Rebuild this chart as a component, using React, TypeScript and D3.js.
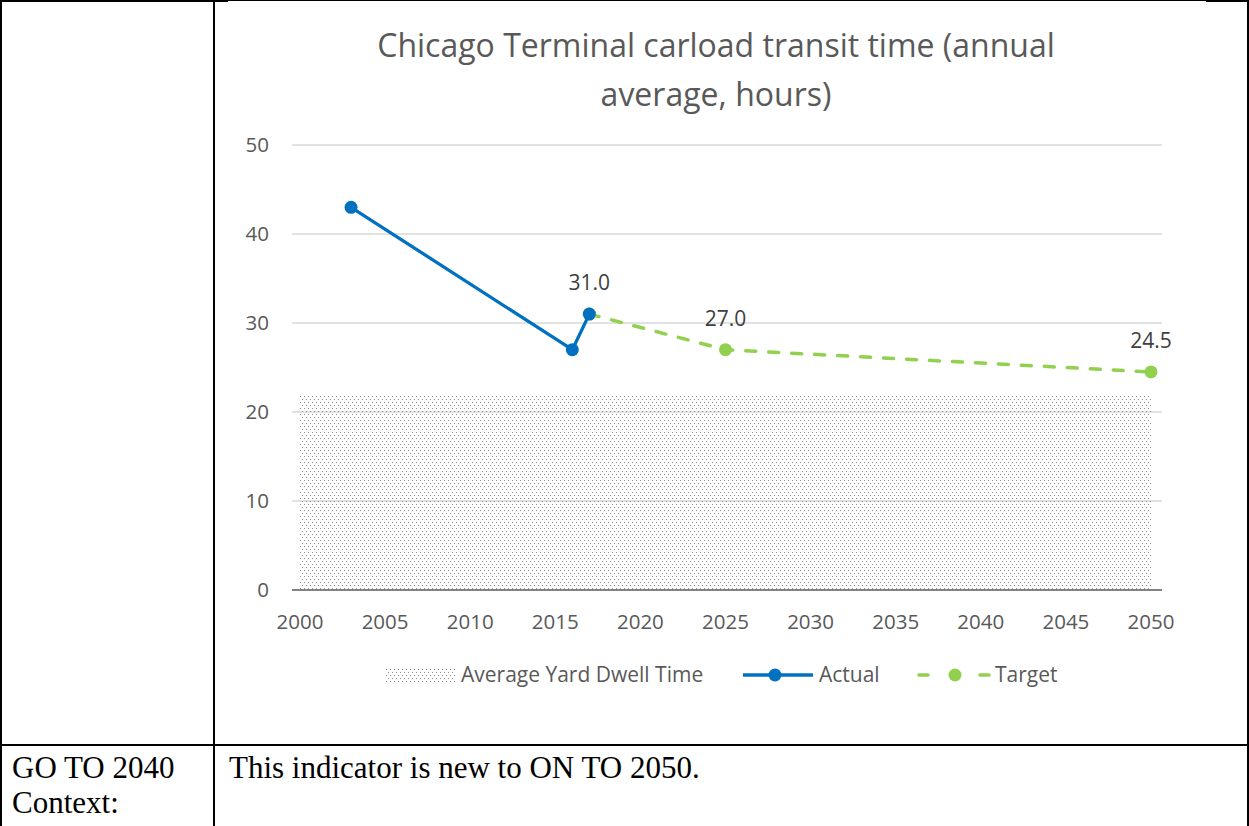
import React from "react";
import * as d3 from "d3";

const actualYears = [2003, 2016, 2017];
const actualValues = [43, 27, 31];
const targetYears = [2017, 2025, 2050];
const targetValues = [31, 27, 24.5];
const dwellYears = [2000, 2050];
const dwellValues = [22, 22];
const labelYears = [2017, 2025, 2050];
const labelValues = [31.0, 27.0, 24.5];
const xTicks = [2000, 2005, 2010, 2015, 2020, 2025, 2030, 2035, 2040, 2045, 2050];
const yTicks = [0, 10, 20, 30, 40, 50];
const titleLines = ["Chicago Terminal carload transit time (annual", "average, hours)"];
const legendLabels = ["Average Yard Dwell Time", "Actual", "Target"];

const W = 1249;
const H = 826;
const FONT = "'Open Sans', sans-serif";
const SERIF = "'Liberation Serif', serif";
const TXT = "#595959";

export default function App() {
  const x = d3.scaleLinear().domain([2000, 2050]).range([300, 1151]);
  const y = d3.scaleLinear().domain([0, 50]).range([590, 145]);
  const line = d3
    .line<[number, number]>()
    .x((d) => x(d[0]))
    .y((d) => y(d[1]));
  const area = d3
    .area<[number, number]>()
    .x((d) => x(d[0]))
    .y0(y(0))
    .y1((d) => y(d[1]));
  const actual: [number, number][] = actualYears.map((d, i) => [d, actualValues[i]]);
  const target: [number, number][] = targetYears.map((d, i) => [d, targetValues[i]]);
  const dwell: [number, number][] = dwellYears.map((d, i) => [d, dwellValues[i]]);
  const gridX0 = 292;
  const gridX1 = 1162;
  const fmt = d3.format(".1f");

  return (
    <div style={{ position: "absolute", left: 0, top: 0 }}>
      <svg width={W} height={H} style={{ display: "block", background: "#fff" }}>
        <defs>
          <pattern id="dots" width={4} height={6} patternUnits="userSpaceOnUse">
            <rect x={0} y={0} width={1} height={1} fill="#8c8c8c" shapeRendering="crispEdges" />
            <rect x={2} y={3} width={1} height={1} fill="#8c8c8c" shapeRendering="crispEdges" />
          </pattern>
        </defs>

        {/* table borders */}
        <rect x={0} y={0} width={228} height={2} fill="#000" />
        <rect x={228} y={0} width={978} height={1} fill="#000" />
        <rect x={1206} y={0} width={43} height={2} fill="#000" />
        <rect x={0} y={0} width={2} height={H} fill="#000" />
        <rect x={213} y={0} width={2} height={H} fill="#000" />
        <rect x={1247} y={0} width={2} height={H} fill="#000" />
        <rect x={0} y={744} width={W} height={2} fill="#000" />

        <text x={12} y={778} fontFamily={SERIF} fontSize={31} fill="#000">GO TO 2040</text>
        <text x={12} y={813} fontFamily={SERIF} fontSize={31} fill="#000">Context:</text>
        <text x={229} y={778} fontFamily={SERIF} fontSize={31} fill="#000">
          This indicator is new to ON TO 2050.
        </text>

        {/* title */}
        {titleLines.map((t, i) => (
          <text key={i} x={716} y={57 + i * 49} textAnchor="middle" fontFamily={FONT} fontSize={32} fill={TXT}>
            {t}
          </text>
        ))}

        {/* gridlines */}
        {yTicks.filter((t) => t > 0).map((t) => (
          <line key={t} x1={gridX0} x2={gridX1} y1={y(t)} y2={y(t)} stroke="#d9d9d9" strokeWidth={1.3} />
        ))}

        {/* area */}
        <path d={area(dwell) || ""} fill="url(#dots)" />

        {/* axis line */}
        <line x1={gridX0} x2={gridX1} y1={y(0)} y2={y(0)} stroke="#595959" strokeWidth={1.5} />

        {/* y tick labels */}
        {yTicks.map((t) => (
          <text key={t} x={269} y={y(t) + 7} textAnchor="end" fontFamily={FONT} fontSize={20.5} fill={TXT}>
            {t}
          </text>
        ))}
        {/* x tick labels */}
        {xTicks.map((t) => (
          <text key={t} x={x(t)} y={629} textAnchor="middle" fontFamily={FONT} fontSize={20.5} fill={TXT}>
            {t}
          </text>
        ))}

        {/* target */}
        <path d={line(target) || ""} fill="none" stroke="#92D050" strokeWidth={3.5} strokeDasharray="10 13" strokeLinecap="round" />
        {target.map((d, i) => (
          <circle key={i} cx={x(d[0])} cy={y(d[1])} r={6.5} fill="#92D050" />
        ))}

        {/* actual */}
        <path d={line(actual) || ""} fill="none" stroke="#0070C0" strokeWidth={3.3} strokeLinejoin="round" />
        {actual.map((d, i) => (
          <circle key={i} cx={x(d[0])} cy={y(d[1])} r={6.5} fill="#0070C0" />
        ))}

        {/* data labels */}
        {labelYears.map((yr, i) => (
          <text key={yr} x={x(yr)} y={y(labelValues[i]) - 24} textAnchor="middle" fontFamily={FONT} fontSize={21} fill="#404040">
            {fmt(labelValues[i])}
          </text>
        ))}

        {/* legend */}
        <rect x={385} y={668} width={70} height={14} fill="url(#dots)" />
        <text x={461} y={682} fontFamily={FONT} fontSize={21} fill={TXT}>{legendLabels[0]}</text>
        <line x1={743} x2={813} y1={675} y2={675} stroke="#0070C0" strokeWidth={3.3} />
        <circle cx={775} cy={675} r={6.5} fill="#0070C0" />
        <text x={819} y={682} fontFamily={FONT} fontSize={21} fill={TXT}>{legendLabels[1]}</text>
        <line x1={919} x2={928} y1={675} y2={675} stroke="#92D050" strokeWidth={3.5} strokeLinecap="round" />
        <line x1={980} x2={989} y1={675} y2={675} stroke="#92D050" strokeWidth={3.5} strokeLinecap="round" />
        <circle cx={955} cy={675} r={6.5} fill="#92D050" />
        <text x={995} y={682} fontFamily={FONT} fontSize={21} fill={TXT}>{legendLabels[2]}</text>
      </svg>
    </div>
  );
}
